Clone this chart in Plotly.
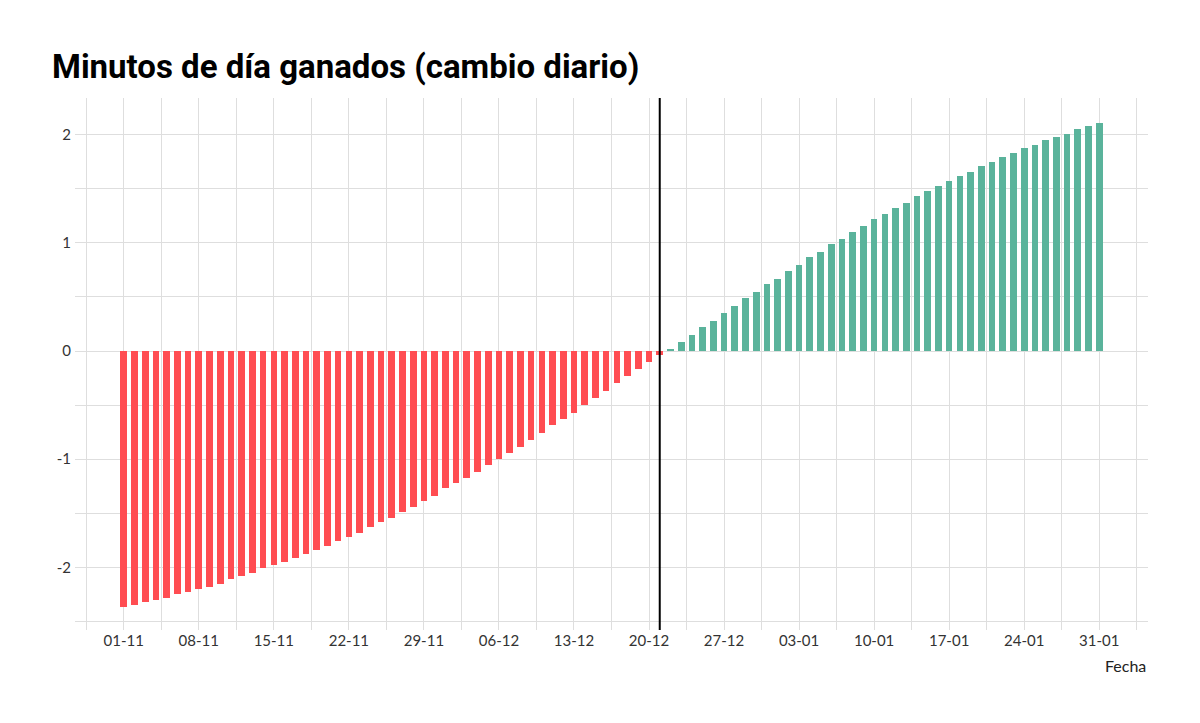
import pandas as pd
import plotly.graph_objects as go

# daily change in day length (minutes)
nov_values = [-2.37, -2.35, -2.32, -2.30, -2.28, -2.25, -2.23, -2.20, -2.18, -2.15,
              -2.11, -2.08, -2.05, -2.01, -1.98, -1.95, -1.91, -1.88, -1.84, -1.80,
              -1.76, -1.72, -1.68, -1.63, -1.58, -1.54, -1.49, -1.44, -1.39, -1.34]
dec_values = [-1.27, -1.22, -1.17, -1.12, -1.05, -1.00, -0.94, -0.89, -0.82, -0.76,
              -0.68, -0.63, -0.57, -0.50, -0.43, -0.37, -0.30, -0.23, -0.17, -0.10,
              -0.04, 0.02, 0.08, 0.15, 0.22, 0.28, 0.35, 0.42, 0.49, 0.55, 0.62]
jan_values = [0.67, 0.74, 0.80, 0.87, 0.92, 0.99, 1.04, 1.10, 1.16, 1.22,
              1.27, 1.32, 1.37, 1.43, 1.48, 1.53, 1.57, 1.62, 1.66, 1.71,
              1.75, 1.79, 1.83, 1.88, 1.91, 1.95, 1.98, 2.01, 2.05, 2.08, 2.11]

y_ticks = [-2, -1, 0, 1, 2]
y_labels = ["-2", "-1", "0", "1", "2"]

values = nov_values + dec_values + jan_values
dates = pd.date_range("2020-11-01", periods=len(values), freq="D")
solstice = "2020-12-21"

RED = "#FF4D52"
GREEN = "#5AB39B"
DAY = 86400000

colors = [RED if v < 0 else GREEN for v in values]

fig = go.Figure()
fig.add_trace(go.Bar(x=dates, y=values, width=0.62 * DAY,
                     marker=dict(color=colors, line=dict(width=0))))

fig.add_shape(type="line", xref="x", yref="paper", x0=solstice, x1=solstice,
              y0=0, y1=1, line=dict(color="black", width=2))

x_lo = dates[0] - pd.Timedelta(days=4.55)
x_hi = dates[-1] + pd.Timedelta(days=4.55)

grid = "#dedede"
fig.update_xaxes(
    type="date", range=[x_lo, x_hi],
    tickmode="linear", tick0="2020-11-01", dtick=7 * DAY, tickformat="%d-%m",
    showgrid=True, gridcolor=grid, gridwidth=1,
    minor=dict(tick0="2020-11-01", dtick=3.5 * DAY, showgrid=True,
               gridcolor=grid, gridwidth=1),
    zeroline=False, showline=False, ticks="",
    tickfont=dict(family="Lato", size=15, color="#333333"),
)
fig.update_yaxes(
    range=[-2.58, 2.34], tickmode="array", tickvals=y_ticks, ticktext=y_labels,
    showgrid=True, gridcolor=grid, gridwidth=1,
    minor=dict(tickmode="linear", tick0=0, dtick=0.5, showgrid=True,
               gridcolor=grid, gridwidth=1),
    zeroline=False, showline=False, ticks="", ticklabelstandoff=3,
    tickfont=dict(family="Lato", size=15, color="#333333"),
)

fig.add_annotation(text="Fecha", xref="paper", yref="paper", x=1, y=0,
                   xanchor="right", yanchor="top", yshift=-24, showarrow=False,
                   font=dict(family="Lato", size=16, color="#222222"))

# the page body adds an 8px offset, so margins are shifted by it
fig.update_layout(
    width=1200, height=723,
    margin=dict(l=67, r=60, t=90, b=101, autoexpand=False),
    paper_bgcolor="white", plot_bgcolor="white",
    showlegend=False, bargap=0,
    title=dict(text="<b>Minutos de día ganados (cambio diario)</b>",
               x=44 / 1200, xref="container", xanchor="left",
               y=1 - 58 / 723, yref="container", yanchor="middle",
               font=dict(family="Roboto", size=33, color="black")),
)

fig.write_html("out.html")
